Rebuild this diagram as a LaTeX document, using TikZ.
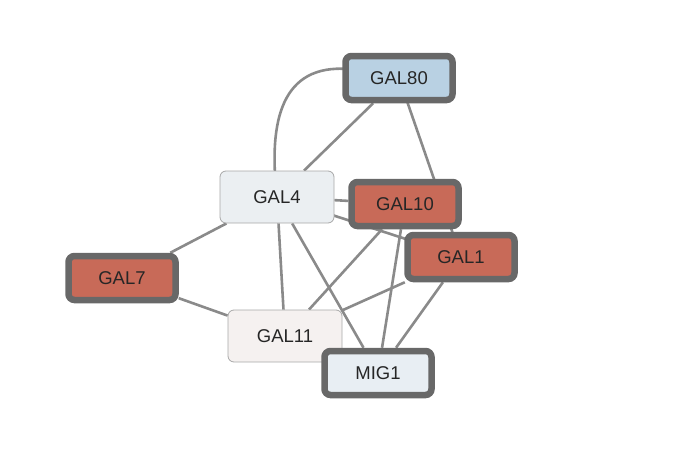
\documentclass[tikz,border=0pt]{standalone}
\usepackage{fontspec}
\setmainfont{Liberation Sans}
\usetikzlibrary{backgrounds}
\definecolor{edgegray}{HTML}{8A8A8A}
\definecolor{thickgray}{HTML}{686868}
\definecolor{thingray}{HTML}{A8A8A8}
\definecolor{redfill}{HTML}{C86A58}
\definecolor{bluefill}{HTML}{B9D1E3}
\definecolor{palefill}{HTML}{EBEFF2}
\definecolor{warmfill}{HTML}{F5F1F0}
\definecolor{migfill}{HTML}{E8EEF3}
\tikzset{
  gene/.style={rectangle, rounded corners=6pt, font=\fontsize{18.5}{21}\selectfont, text=black!85},
  thickbox/.style={gene, draw=thickgray, line width=6.5pt, minimum width=107pt, minimum height=44pt},
  thinbox/.style={gene, draw=thingray, line width=0.8pt, minimum width=114pt, minimum height=52pt},
  link/.style={draw=edgegray, line width=2.6pt}
}
\begin{document}
\begin{tikzpicture}[x=1pt,y=-1pt]
\useasboundingbox (0,0) rectangle (676,452);
\node[thickbox, fill=bluefill] (GAL80) at (399,78) {GAL80};
\node[thinbox, fill=palefill] (GAL4) at (277,197) {GAL4};
\node[thickbox, fill=redfill] (GAL10) at (405,204) {GAL10};
\node[thickbox, fill=redfill] (GAL1) at (461,257) {GAL1};
\node[thickbox, fill=redfill] (GAL7) at (122,278) {GAL7};
\node[thinbox, fill=warmfill] (GAL11) at (285,336) {GAL11};
\node[thickbox, fill=migfill] (MIG1) at (378,373) {MIG1};
\begin{scope}[on background layer]
\draw[link] ([xshift=6pt,yshift=9pt]GAL80.west) .. controls (282,64) and (268,120) .. (GAL4.center);
\draw[link] (GAL80) -- (GAL4);
\draw[link] (GAL80.center) -- (GAL1.center);
\draw[link] (GAL4) -- (GAL10);
\draw[link] (GAL4.center) -- (GAL1.center);
\draw[link] (GAL4) -- (GAL7);
\draw[link] (GAL4) -- (GAL11);
\draw[link] (GAL4) -- (MIG1);
\draw[link] (GAL10) -- (GAL11);
\draw[link] (GAL10) -- (MIG1);
\draw[link] (GAL1) -- (GAL11);
\draw[link] (GAL1) -- (MIG1);
\draw[link] (GAL7) -- (GAL11);
\end{scope}
\end{tikzpicture}
\end{document}
